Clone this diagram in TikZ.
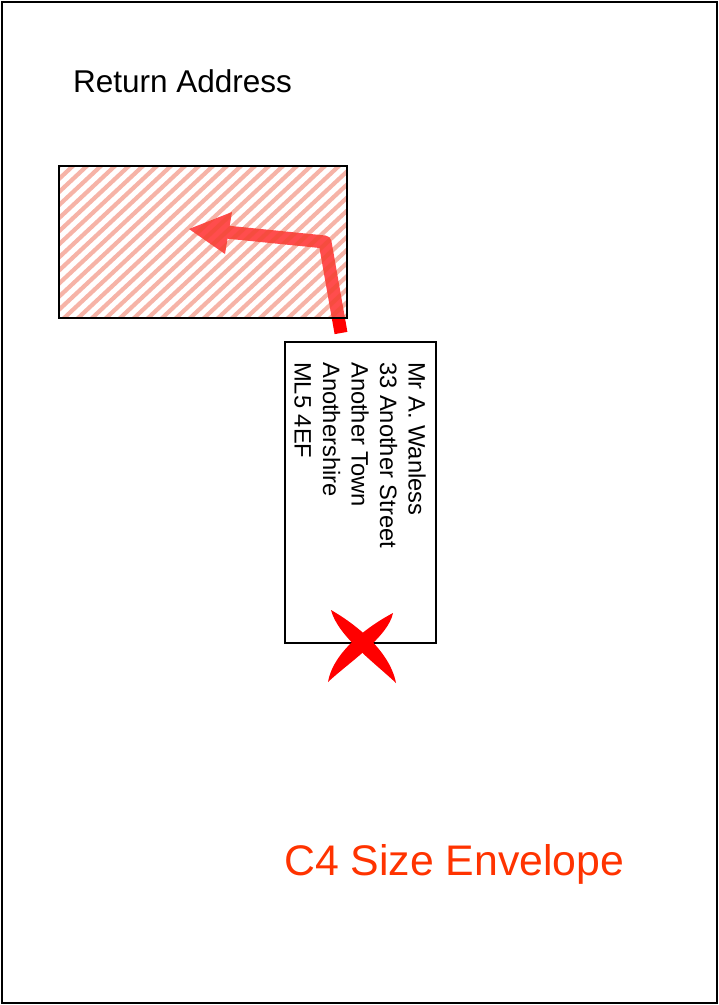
\documentclass[tikz,border=0pt]{standalone}
\usepackage{fontspec}
\setmainfont{Liberation Sans}
\definecolor{c4col}{RGB}{255,51,0}
\definecolor{stripecol}{RGB}{235,75,45}
\begin{document}
\begin{tikzpicture}[x=1pt,y=-1pt,
  frame/.style={draw=black,line width=1.5pt},
  boxline/.style={draw=black,line width=1.2pt},
  stripe/.style={draw=stripecol,opacity=0.42,line width=4.2pt},
  addr/.style={rotate=-90,anchor=base west,inner sep=0pt,font=\fontsize{23.7}{28}\selectfont},
  arrowbody/.style={draw=red,line width=13pt,line join=round}]
\useasboundingbox (0,0) rectangle (719,1005);
% outer envelope
\draw[frame] (2,2) rectangle (717,1003);
% return address text
\node[anchor=base west,inner sep=0pt,font=\fontsize{31.5}{36}\selectfont] (ret) at (73,92) {Return Address};
% coordinates of the window
\coordinate (winA) at (59,166);
\coordinate (winB) at (347,318);
% arrow
\coordinate (arrS) at (341,333);
\coordinate (arrC) at (325,242);
\coordinate (arrE) at (226,232);
\draw[arrowbody] (arrS) -- (arrC) -- (arrE);
\fill[red] (189,229) -- (232,212) -- (225,254) -- cycle;
% hatch over the window
\begin{scope}
  \clip (winA) rectangle (winB);
  \fill[white,opacity=0.3] (winA) rectangle (winB);
  \foreach \k in {0,...,36} {
    \draw[stripe] ({-120+14*\k},320) -- ++(167,-156);
  }
\end{scope}
\draw[black,line width=1.2pt] (winA) rectangle (winB);
% address box
\draw[boxline] (285,342) rectangle (436,643);
\node[addr] (l1) at (408.5,362) {Mr A. Wanless};
\node[addr] (l2) at (380,362) {33 Another Street};
\node[addr] (l3) at (351.5,362) {Another Town};
\node[addr] (l4) at (323,362) {Anothershire};
\node[addr] (l5) at (294.5,362) {ML5 4EF};
% red cross
\fill[red] (331,610) .. controls (352.5,622.3) and (389.5,649.3) .. (396,683)
  .. controls (374.5,662.7) and (337.5,635.7) .. (331,610) -- cycle;
\fill[red] (393,613) .. controls (388.3,636.9) and (348.3,662.9) .. (328,682)
  .. controls (333.7,649.1) and (373.7,623.1) .. (393,613) -- cycle;
% title
\node[anchor=base west,inner sep=0pt,text=c4col,font=\fontsize{42.8}{50}\selectfont] (c4) at (284,875) {C4 Size Envelope};
\end{tikzpicture}
\end{document}
